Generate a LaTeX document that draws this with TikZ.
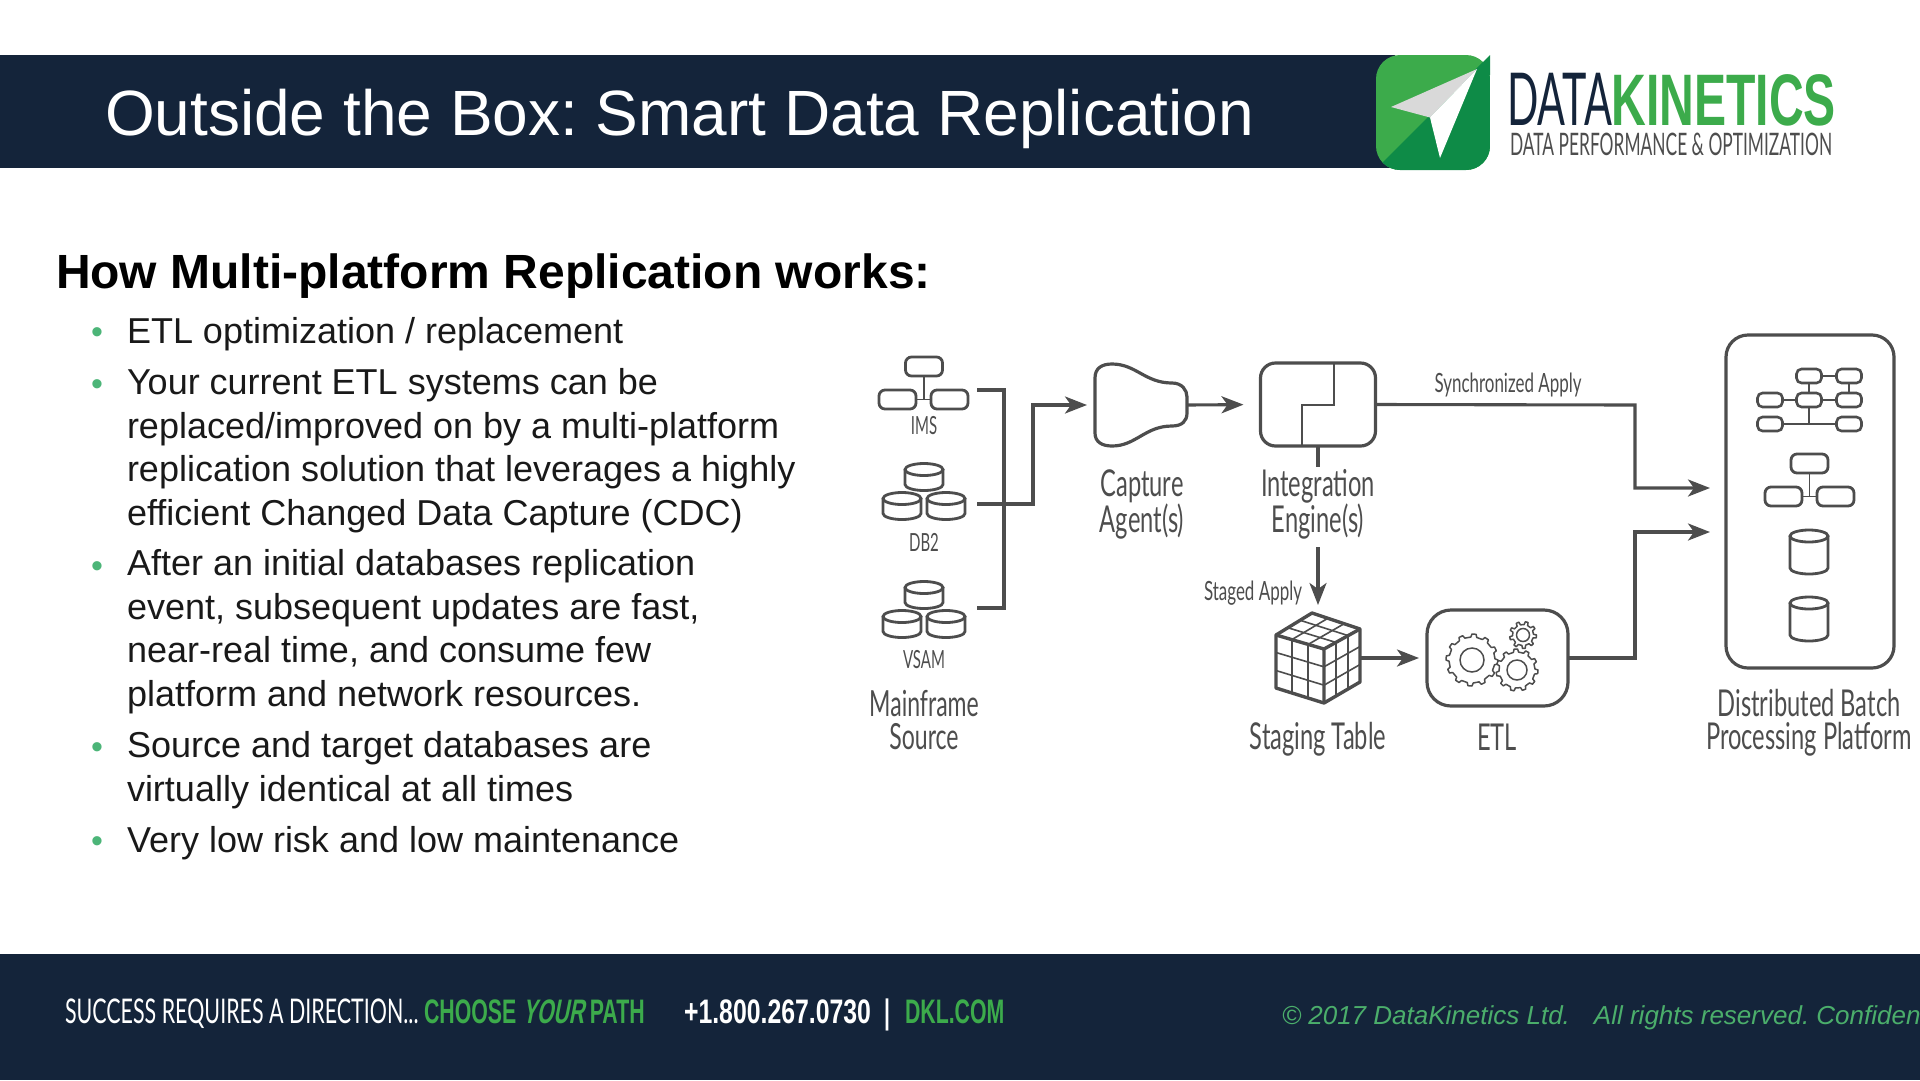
\documentclass[tikz,border=0pt]{standalone}
\usepackage{fontspec}
\setmainfont{Liberation Sans}
\newfontfamily\condfont[FakeStretch=.6]{Lato}
\newfontfamily\widefont[FakeStretch=.64]{Lato}
\newfontfamily\logofont[FakeStretch=.565]{Lato}
\newfontfamily\subfont[FakeStretch=.56]{Lato}
\newfontfamily\logobold[UprightFont=* Bold,FakeStretch=.659]{Liberation Sans}
\newfontfamily\footfont[FakeStretch=.63]{Lato}
\newfontfamily\footbold[UprightFont=* Bold,FakeStretch=.627]{Liberation Sans}
\newfontfamily\footslant[UprightFont=* Bold,FakeStretch=.627,FakeSlant=.2]{Liberation Sans}
\newfontfamily\phonebold[UprightFont=* Bold,FakeStretch=.73]{Liberation Sans}
\frenchspacing
\usetikzlibrary{arrows.meta,calc}
\definecolor{navy}{HTML}{14243A}
\definecolor{iconGray}{HTML}{4D4D4D}
\definecolor{dkGreen}{HTML}{3CAB4B}
\definecolor{deepGreen}{HTML}{0E8B47}
\definecolor{softGreen}{HTML}{4BAE6B}
\definecolor{dotGreen}{HTML}{4CB578}
\tikzset{>={Stealth[length=22pt,width=17pt,inset=6pt]},
every node/.style={inner sep=0pt,outer sep=0pt},
flow/.style={line width=3.1pt,draw=iconGray,->},
edge/.style={line width=3.1pt,draw=iconGray},
thinline/.style={line width=1.6pt,draw=iconGray},
iconbox/.style={draw=iconGray,line width=2.8pt,rounded corners=6pt,minimum width=37pt,minimum height=19pt},
tinybox/.style={draw=iconGray,line width=2.6pt,rounded corners=5pt,minimum width=25pt,minimum height=14pt},
bigbox/.style={draw=iconGray,line width=3.2pt,rounded corners=#1},
bullettext/.style={anchor=base west,align=left,text=black!90,font=\fontsize{36}{43.4}\selectfont},
bulletdot/.style={anchor=base,text=dotGreen,font=\fontsize{34}{34}\selectfont},
bigcap/.style={text=iconGray,align=center,font=\widefont\fontsize{37}{36}\selectfont},
midcap/.style={text=iconGray,align=center,font=\widefont\fontsize{26.5}{28}\selectfont},
smallcap/.style={text=iconGray,align=center,font=\condfont\fontsize{25}{26}\selectfont}}
\begin{document}
\begin{tikzpicture}[x=1pt,y=-1pt]
\useasboundingbox (0,0) rectangle (1920,1080);
% Bandeaux du haut et du bas
\fill[navy] (0,55) rectangle (1395,168);
\fill[navy] (0,954) rectangle (1920,1080);
\node[anchor=base west,text=white,font=\fontsize{64}{64}\selectfont] (title) at (105,135) {Outside the Box: Smart Data Replication};
% Logo
\begin{scope}
\clip[rounded corners=24pt] (1376,55) -- (1490,55) -- (1490,170) -- (1376,170) -- cycle;
\fill[dkGreen] (1376,55) rectangle (1490,170);
\fill[deepGreen] (1490,55) -- (1490,170) -- (1376,170) -- (1381,164) -- cycle;
\end{scope}
\fill[deepGreen] (1474,71) -- (1490,55) -- (1490,75) -- cycle;
\fill[gray!30] (1477,69) -- (1391,107) -- (1430,117.5) -- cycle;
\fill[white] (1477,69) -- (1430,117.5) -- (1440,158) -- cycle;
\node[anchor=base west,text=navy,font=\logofont\fontsize{73}{73}\selectfont] (logodata) at (1507,125) {DATA};
\node[anchor=base east,text=dkGreen,font=\logobold\fontsize{73}{73}\selectfont] (logokin) at (1836,125) {KINETICS};
\node[anchor=base west,text=iconGray,font=\subfont\fontsize{31}{31}\selectfont] (logosub) at (1510,155) {DATA PERFORMANCE \& OPTIMIZATION};
% Texte de gauche
\node[anchor=base west,font=\bfseries\fontsize{48}{48}\selectfont] (heading) at (56,288.5) {How Multi-platform Replication works:};
\node[bullettext] (itemA) at (127,343) {ETL optimization / replacement};
\node[bullettext] (itemB) at (127,525) {Your current ETL systems can be\\replaced/improved on by a multi-platform\\replication solution that leverages a highly\\efficient Changed Data Capture (CDC)};
\node[bullettext] (itemC) at (127,706) {After an initial databases replication\\event, subsequent updates are fast,\\near-real time, and consume few\\platform and network resources.};
\node[bullettext] (itemD) at (127,801) {Source and target databases are\\virtually identical at all times};
\node[bullettext] (itemE) at (127,852) {Very low risk and low maintenance};
\foreach \by/\bn in {343/A,395/B,577/C,758/D,852/E}
\node[bulletdot] (dot\bn) at (97,\by) {•};
% Source
\node[iconbox] (imsTop) at (924,366.5) {};
\node[iconbox] (imsLeft) at (897.5,399.5) {};
\node[iconbox] (imsRight) at (949.5,399.5) {};
\draw[thinline] (imsTop) -- (imsTop|-imsLeft);
\draw[thinline] (imsLeft) -- (imsRight);
\foreach \cx/\cy/\cw/\ch in {924/477/38/27,902/506/38/27,946/506/38/27,924/595/38/27,902/624/38/27,946/624/38/27,1809/552/38/44,1809/619/38/44}{
\begin{scope}[shift={(\cx,\cy)}]
\draw[draw=iconGray,line width=2.8pt,fill=white] (-\cw/2,-\ch/2+6) -- (-\cw/2,\ch/2-6) arc (180:0:\cw/2 and 6) -- (\cw/2,-\ch/2+6);
\draw[draw=iconGray,line width=2.8pt,fill=white] (0,-\ch/2+6) ellipse ({\cw/2} and 6);
\end{scope}}
\node[smallcap] (imsLabel) at (924,426) {IMS};
\node[smallcap] (dbLabel) at (924,542) {DB2};
\node[smallcap] (vsamLabel) at (924,660) {VSAM};
\node[bigcap,font=\widefont\fontsize{36}{33}\selectfont] (sourceLabel) at (924,720) {Mainframe\\Source};
% Renvois vers la capture
\coordinate (brTop) at (977,390);
\coordinate (brMid) at (977,504);
\coordinate (brBot) at (977,608);
\coordinate (brUp) at (1033,405);
\node (capture) at (1141,405) [minimum width=92pt,minimum height=82pt] {};
\draw[edge] (brTop) -- (1004,390) -- (1004,608) -- (brBot);
\draw[flow,shorten >=8pt] (brMid) -- (brMid-|brUp) -- (brUp) -- (capture.west);
\draw[draw=iconGray,line width=3.2pt] (1095,378) .. controls (1095,368) and (1102,364) .. (1112,364) .. controls (1136,364) and (1145,383) .. (1172,383) .. controls (1182,383) and (1187,390) .. (1187,397) -- (1187,413) .. controls (1187,421) and (1182,426) .. (1172,426) .. controls (1145,426) and (1136,446) .. (1112,446) .. controls (1102,446) and (1095,442) .. (1095,433) -- cycle;
\node[bigcap] (captureLabel) at (1142,504) {Capture\\Agent(s)};
% Moteur d'integration
\node[bigbox=15pt,minimum width=115pt,minimum height=83pt] (integ) at (1318,404.5) {};
\draw[thinline] (1334,363) -- (1334,405) -- (1302,405) -- (1302,446);
\draw[flow,shorten >=17pt] (capture.east) -- (integ.west);
\node[bigcap] (integLabel) at (1318,504) {Integration\\Engine(s)};
\coordinate (integStub) at (1318,467);
\draw[edge] (integ.south) -- (integStub);
\coordinate (stagedTop) at (1318,547);
% Table intermediaire
\coordinate (cubeTop) at (1312,613);
\coordinate (cubeLeft) at (1276,635);
\coordinate (cubeRight) at (1360,629);
\coordinate (cubeFront) at (1324,649);
\coordinate (cubeDown) at (1324,703);
\coordinate (cubeDL) at (1276,688);
\coordinate (cubeDR) at (1360,682);
\node[minimum width=84pt,minimum height=106pt] (cube) at (1318,658) {};
\draw[flow] (stagedTop) -- (cube.north-|stagedTop);
\foreach \t in {.33,.67}{
\draw[thinline] ($(cubeLeft)!\t!(cubeFront)$) -- ($(cubeDL)!\t!(cubeDown)$);
\draw[thinline] ($(cubeFront)!\t!(cubeRight)$) -- ($(cubeDown)!\t!(cubeDR)$);
\draw[thinline] ($(cubeLeft)!\t!(cubeDL)$) -- ($(cubeFront)!\t!(cubeDown)$) -- ($(cubeRight)!\t!(cubeDR)$);
\draw[thinline] ($(cubeLeft)!\t!(cubeTop)$) -- ($(cubeFront)!\t!(cubeRight)$);
\draw[thinline] ($(cubeLeft)!\t!(cubeFront)$) -- ($(cubeTop)!\t!(cubeRight)$);}
\draw[draw=iconGray,line width=3.4pt,line join=round] (cubeLeft) -- (cubeTop) -- (cubeRight) -- (cubeDR) -- (cubeDown) -- (cubeDL) -- cycle;
\draw[draw=iconGray,line width=3.4pt,line join=round] (cubeLeft) -- (cubeFront) -- (cubeRight) (cubeFront) -- (cubeDown);
\node[bigcap] (stagingLabel) at (1318,739) {Staging Table};
% ETL et engrenages
\node[bigbox=24pt,minimum width=141pt,minimum height=96pt] (etl) at (1497.5,658) {};
\draw[flow,shorten >=8pt] (cube.east|-etl) -- (etl.west);
\foreach \gx/\gy/\gr/\gi/\gn in {1472/660/26/12/12,1517/670/21/10/11,1523/635/13.5/6.5/9}{
\begin{scope}[shift={(\gx,\gy)}]
\pgfmathsetmacro{\gs}{360/\gn}
\draw[draw=iconGray,line width=1.5pt,fill=white,line join=round] (0:\gr) \foreach \i in {1,...,\gn}{ -- ({(\i-1)*\gs+.3*\gs}:\gr) -- ({(\i-1)*\gs+.4*\gs}:\gr-3) -- ({(\i-1)*\gs+.9*\gs}:\gr-3) -- ({\i*\gs}:\gr)} -- cycle;
\draw[draw=iconGray,line width=1.5pt] (0,0) circle (\gi);
\end{scope}}
\node[bigcap] (etlLabel) at (1497,737) {ETL};
% Plateforme cible
\node[bigbox=22pt,minimum width=168pt,minimum height=333pt] (platform) at (1810,501.5) {};
\node[tinybox] (c2r1) at (1809,376) {};
\node[tinybox] (c3r1) at (1849,376) {};
\node[tinybox] (c1r2) at (1770,400) {};
\node[tinybox] (c2r2) at (1809,400) {};
\node[tinybox] (c3r2) at (1849,400) {};
\node[tinybox] (c1r3) at (1770,424) {};
\node[tinybox] (c3r3) at (1849,424) {};
\draw[thinline] (c2r1) -- (c3r1) (c3r1) -- (c3r2) (c1r2) -- (c2r2) -- (c3r2) (c2r1) -- (c2r2) (c1r3) -- (c3r3);
\draw[thinline] (c2r2) -- (c2r2|-c1r3);
\node[iconbox] (tgtTop) at (1809.5,463.5) {};
\node[iconbox] (tgtLeft) at (1783.5,496.5) {};
\node[iconbox] (tgtRight) at (1835.5,496.5) {};
\draw[thinline] (tgtTop) -- (tgtTop|-tgtLeft);
\draw[thinline] (tgtLeft) -- (tgtRight);
\node[bigcap,font=\widefont\fontsize{37}{33}\selectfont] (platformLabel) at (1809,723) {Distributed Batch\\Processing Platform};
% Sorties vers la plateforme
\coordinate (syncIn) at (1710,488);
\coordinate (etlIn) at (1710,532);
\draw[flow] (integ.east) -- (1635,405) -- (1635,488) -- (syncIn);
\draw[flow] (etl.east) -- (1635,658) -- (1635,532) -- (etlIn);
\node[midcap] (syncLabel) at (1508,385) {Synchronized Apply};
\node[midcap] (stagedLabel) at (1253,593) {Staged Apply};
% Pied de page
\node[anchor=base west,text=white,font=\footfont\fontsize{34}{34}\selectfont] (footA) at (65,1023) {SUCCESS REQUIRES A DIRECTION...};
\node[anchor=base west,text=dkGreen,font=\footbold\fontsize{34}{34}\selectfont] (footB) at (424,1023) {CHOOSE {\footslant YOUR} PATH};
\node[anchor=base west,text=white,font=\phonebold\fontsize{34}{34}\selectfont] (footC) at (684,1023) {+1.800.267.0730};
\node[anchor=base,text=white,font=\footbold\fontsize{34}{34}\selectfont] (footBar) at (887,1023) {|};
\node[anchor=base west,text=dkGreen,font=\footbold\fontsize{34}{34}\selectfont] (footD) at (905,1023) {DKL.COM};
\node[anchor=base west,text=softGreen,font=\itshape\fontsize{26}{26}\selectfont] (footE) at (1282,1024) {© 2017 DataKinetics Ltd.\hspace{24pt}All rights reserved. Confiden};
\end{tikzpicture}
\end{document}
